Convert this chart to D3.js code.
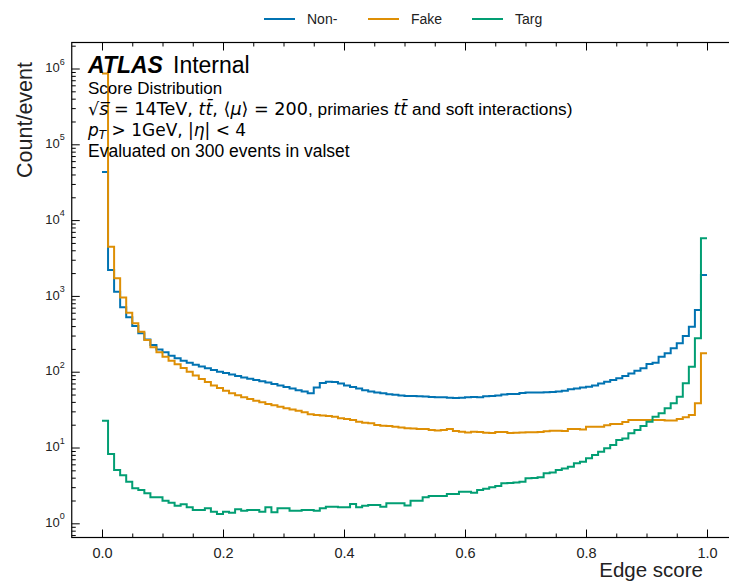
<!DOCTYPE html>
<html>
<head>
<meta charset="utf-8">
<script src="https://cdn.jsdelivr.net/npm/d3@7"></script>
<style>
  body { margin: 0; background: #fff; }
  svg { display: block; }
</style>
</head>
<body>
<svg id="chart" width="729" height="583"></svg>
<script>
// Histogram bin edges: 100 bins of width 0.01 on [0, 1]
const binEdges = d3.range(101).map(i => i / 100);

// Counts per event in each bin
const nonTarget = [
  43000, 2200, 1135, 708, 522, 401, 321, 267, 225, 197,
  180, 163, 150, 140, 131, 124, 117, 111, 105, 100,
  96, 92, 88, 84, 81, 78, 75, 72, 69, 66,
  63, 60, 57, 55, 52, 62, 71, 74, 73, 70,
  66, 63, 60, 57, 55, 53, 52, 50.5, 49.5, 48.5,
  48, 47.8, 47.5, 47, 46.5, 46, 46, 45.5, 45, 45.5,
  46, 46.5, 46, 47.5, 48, 48.5, 50, 51, 51, 52.5,
  53, 53, 53, 53.5, 54, 55, 56, 58.5, 60, 62,
  63.5, 66, 70, 74, 78, 82, 88, 95, 103, 111,
  126, 131, 158, 175, 204, 237, 296, 393, 651, 1890
];
const fake = [
  860000, 4460, 1708, 955, 600, 435, 337, 262, 210, 180,
  158, 140, 125, 112, 100, 89, 80, 73, 66, 61,
  56, 52, 49, 46, 43.6, 41.5, 39.5, 37.5, 36, 34.5,
  33, 31.8, 30.6, 29.1, 27.4, 26.8, 26.4, 26, 25.5, 24.3,
  23.8, 23.1, 21.9, 21.2, 20.9, 19.8, 19.4, 19.2, 18.8, 18.4,
  18, 17.8, 17.6, 17.6, 17, 16.8, 17, 17.6, 16.5, 16.1,
  15.8, 16.1, 16, 15.7, 15.6, 16, 16, 15.6, 15.7, 15.8,
  15.9, 15.9, 16, 16.4, 16.7, 16.7, 16.5, 17.6, 17.6, 17.3,
  18.8, 18.8, 18.8, 19.7, 20.4, 20.4, 21.7, 23.1, 23.1, 23.1,
  23.1, 23.1, 23.1, 22.7, 22.7, 23.7, 25, 26.8, 38.5, 175
];
const target = [
  22.5, 8.2, 5.05, 4.3, 3.54, 2.9, 2.75, 2.49, 2.2, 2.2,
  1.99, 1.87, 1.71, 1.78, 1.63, 1.5, 1.5, 1.58, 1.42, 1.33,
  1.42, 1.38, 1.53, 1.46, 1.5, 1.5, 1.42, 1.63, 1.4, 1.58,
  1.58, 1.47, 1.47, 1.5, 1.5, 1.47, 1.58, 1.66, 1.66, 1.63,
  1.63, 1.8, 1.63, 1.7, 1.74, 1.74, 1.66, 1.84, 1.84, 1.84,
  1.72, 1.99, 1.99, 2.2, 2.29, 2.29, 2.29, 2.43, 2.43, 2.6,
  2.6, 2.53, 2.75, 2.85, 2.99, 3.1, 3.37, 3.4, 3.45, 3.54,
  3.93, 3.95, 4.05, 4.57, 4.7, 5.05, 5.3, 5.59, 6.19, 6.5,
  7.2, 7.96, 8.81, 9.75, 10.8, 12.6, 13.2, 15.4, 17, 19.2,
  21.9, 25.5, 28.3, 32.9, 38.3, 46.8, 70.3, 116, 276, 5750
];

const seriesNames = ["Non-", "Fake", "Targ"];
const seriesColors = ["#0173B2", "#DE8F05", "#029E73"];
const seriesValues = [nonTarget, fake, target];

const xMajorTicks = [0, 0.2, 0.4, 0.6, 0.8, 1.0];
const yMajorExponents = [0, 1, 2, 3, 4, 5, 6];

// ---- layout ----
const svg = d3.select("#chart");
const TEXT_FONT = "'Liberation Sans', Arial, Helvetica, sans-serif";
const MATH_FONT = "'DejaVu Sans', sans-serif";

const plot = { left: 71.75, right: 737.25, top: 42.5, bottom: 537.5 };

const x = d3.scaleLinear().domain([-0.05, 1.05]).range([plot.left, plot.right]);
const y = d3.scaleLog()
  .domain([Math.pow(10, -0.187), Math.pow(10, 6.343)])
  .range([plot.bottom, plot.top]);

const MAJOR = 8, MINOR = 4;

// clip region for the histogram lines
svg.append("defs").append("clipPath").attr("id", "plot-clip")
  .append("rect")
  .attr("x", plot.left).attr("y", plot.top)
  .attr("width", plot.right - plot.left).attr("height", plot.bottom - plot.top);

// ---- histogram steps ----
const stepLine = d3.line()
  .x(d => x(d[0]))
  .y(d => y(d[1]))
  .curve(d3.curveStepAfter);

const lines = svg.append("g").attr("clip-path", "url(#plot-clip)");
seriesValues.forEach((vals, s) => {
  const pts = vals.map((v, i) => [binEdges[i], v]);
  pts.push([binEdges[vals.length], vals[vals.length - 1]]);
  lines.append("path")
    .attr("d", stepLine(pts))
    .attr("fill", "none")
    .attr("stroke", seriesColors[s])
    .attr("stroke-width", 2)
    .attr("stroke-linejoin", "miter");
});

// ---- axes (inward ticks on all four sides) ----
const xDom = x.domain();
const xMinorTicks = d3.range(-20, 22).map(k => k * 0.05)
  .filter(v => v > xDom[0] + 1e-9 && v < xDom[1] - 1e-9)
  .filter(v => !xMajorTicks.some(m => Math.abs(m - v) < 1e-9));

const yDom = y.domain();
const yMajorTicks = yMajorExponents.map(e => Math.pow(10, e));
const yMinorTicks = [];
for (let e = -1; e <= 6; e++) {
  for (let k = 2; k <= 9; k++) {
    const v = k * Math.pow(10, e);
    if (v > yDom[0] && v < yDom[1]) yMinorTicks.push(v);
  }
}

const axisStyle = g => {
  g.select(".domain").remove();
  g.selectAll("line").attr("stroke", "#000").attr("stroke-width", 1);
};

// bottom
svg.append("g")
  .attr("transform", `translate(0,${plot.bottom})`)
  .call(d3.axisBottom(x).tickValues(xMinorTicks).tickSize(-MINOR).tickFormat(""))
  .call(axisStyle);
const xAxisG = svg.append("g")
  .attr("transform", `translate(0,${plot.bottom})`)
  .call(d3.axisBottom(x).tickValues(xMajorTicks).tickSize(-MAJOR).tickPadding(10).tickFormat(d3.format(".1f")))
  .call(axisStyle);
xAxisG.selectAll("text")
  .attr("font-family", TEXT_FONT).attr("font-size", 14.5).attr("fill", "#222");

// top
svg.append("g")
  .attr("transform", `translate(0,${plot.top})`)
  .call(d3.axisTop(x).tickValues(xMinorTicks).tickSize(-MINOR).tickFormat(""))
  .call(axisStyle);
svg.append("g")
  .attr("transform", `translate(0,${plot.top})`)
  .call(d3.axisTop(x).tickValues(xMajorTicks).tickSize(-MAJOR).tickFormat(""))
  .call(axisStyle);

// left
svg.append("g")
  .attr("transform", `translate(${plot.left},0)`)
  .call(d3.axisLeft(y).tickValues(yMinorTicks).tickSize(-MINOR).tickFormat(""))
  .call(axisStyle);
const yAxisG = svg.append("g")
  .attr("transform", `translate(${plot.left},0)`)
  .call(d3.axisLeft(y).tickValues(yMajorTicks).tickSize(-MAJOR).tickPadding(7).tickFormat(""))
  .call(axisStyle);
// power-of-ten labels with superscript exponents
yAxisG.selectAll(".tick").each(function(d) {
  const e = Math.round(Math.log10(d));
  const t = d3.select(this).select("text")
    .attr("font-family", TEXT_FONT).attr("fill", "#222")
    .attr("text-anchor", "end").attr("dy", "0.32em");
  t.text(null);
  t.append("tspan").attr("font-size", 13).text("10");
  t.append("tspan").attr("font-size", 9).attr("dy", "-0.85em").text(String(e));
});

// right
svg.append("g")
  .attr("transform", `translate(${plot.right},0)`)
  .call(d3.axisRight(y).tickValues(yMinorTicks).tickSize(-MINOR).tickFormat(""))
  .call(axisStyle);
svg.append("g")
  .attr("transform", `translate(${plot.right},0)`)
  .call(d3.axisRight(y).tickValues(yMajorTicks).tickSize(-MAJOR).tickFormat(""))
  .call(axisStyle);

// frame
svg.append("rect")
  .attr("x", plot.left).attr("y", plot.top)
  .attr("width", plot.right - plot.left).attr("height", plot.bottom - plot.top)
  .attr("fill", "none").attr("stroke", "#000").attr("stroke-width", 1.2);

// ---- axis titles ----
svg.append("text")
  .attr("x", 703).attr("y", 577)
  .attr("text-anchor", "end")
  .attr("font-family", TEXT_FONT).attr("font-size", 20.5).attr("fill", "#222")
  .text("Edge score");

svg.append("text")
  .attr("transform", "translate(32,62) rotate(-90)")
  .attr("text-anchor", "end")
  .attr("font-family", TEXT_FONT).attr("font-size", 21.5).attr("fill", "#222")
  .text("Count/event");

// ---- legend above the panel ----
const legend = svg.append("g");
const legendX = [264, 368, 472];
seriesNames.forEach((name, i) => {
  legend.append("line")
    .attr("x1", legendX[i]).attr("x2", legendX[i] + 31)
    .attr("y1", 19).attr("y2", 19)
    .attr("stroke", seriesColors[i]).attr("stroke-width", 2);
  legend.append("text")
    .attr("x", legendX[i] + 43).attr("y", 24)
    .attr("font-family", TEXT_FONT).attr("font-size", 14).attr("fill", "#222")
    .text(name);
});

// ---- experiment label and selection notes ----
const info = svg.append("g").attr("fill", "#000");
info.append("text")
  .attr("x", 88).attr("y", 73)
  .attr("font-family", TEXT_FONT).attr("font-size", 23)
  .attr("font-weight", "bold").attr("font-style", "italic")
  .text("ATLAS");
info.append("text")
  .attr("x", 173).attr("y", 73)
  .attr("font-family", TEXT_FONT).attr("font-size", 23)
  .text("Internal");

info.append("text")
  .attr("x", 88).attr("y", 94)
  .attr("font-family", TEXT_FONT).attr("font-size", 17)
  .text("Score Distribution");

const part = (sel, txt, fam, italic, size) => {
  const s = sel.append("tspan")
    .attr("font-family", fam).attr("font-style", italic ? "italic" : "normal").text(txt);
  if (size) s.attr("font-size", size);
  return s;
};

const line3 = info.append("text")
  .attr("x", 88).attr("y", 115)
  .attr("font-size", 17.3);
part(line3, "\u221A", MATH_FONT, false, 17.6);
part(line3, "s\u0305", MATH_FONT, true, 17.6);
part(line3, " = 14TeV, ", MATH_FONT, false, 17.6);
part(line3, "tt\u0304", MATH_FONT, true, 17.6);
part(line3, ", \u27E8", MATH_FONT, false, 17.6);
part(line3, "\u03BC", MATH_FONT, true, 17.6);
part(line3, "\u27E9 = 200", MATH_FONT, false, 17.6);
part(line3, ", primaries ", TEXT_FONT, false);
part(line3, "tt\u0304", MATH_FONT, true, 17.6);
part(line3, " and soft interactions)", TEXT_FONT, false);

const line4 = info.append("text")
  .attr("x", 88).attr("y", 136)
  .attr("font-size", 17);
part(line4, "p", MATH_FONT, true);
line4.append("tspan").attr("font-family", MATH_FONT).attr("font-style", "italic")
  .attr("font-size", 12).attr("dy", 3).text("T");
line4.append("tspan").attr("font-family", MATH_FONT)
  .attr("dy", -3).text(" > 1GeV, |");
part(line4, "\u03B7", MATH_FONT, true);
part(line4, "| < 4", MATH_FONT, false);

info.append("text")
  .attr("x", 88).attr("y", 157)
  .attr("font-family", TEXT_FONT).attr("font-size", 17.5)
  .text("Evaluated on 300 events in valset");
</script>
</body>
</html>
